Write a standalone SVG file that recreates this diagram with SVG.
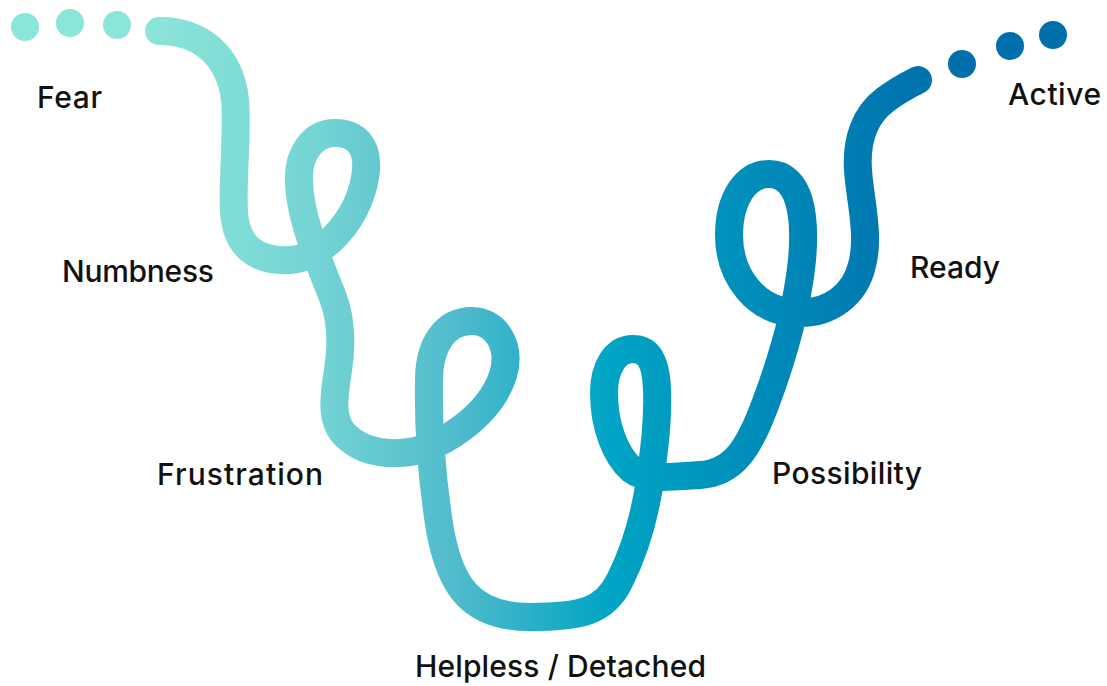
<svg xmlns="http://www.w3.org/2000/svg" width="1107" height="686" viewBox="0 0 1107 686">
<style>
.lbl{font-family:Inter,"Open Sans","Liberation Sans",sans-serif;font-size:30px;font-weight:500;fill:#111}
.dl{fill:#8ce5d9}
.dr{fill:#0070ad}
</style>
<defs>
<linearGradient id="g" gradientUnits="userSpaceOnUse" x1="150" y1="0" x2="920" y2="0">
<stop offset="0" stop-color="#8ce5d9"/>
<stop offset="0.22" stop-color="#74d3d4"/>
<stop offset="0.4" stop-color="#4fbbcc"/>
<stop offset="0.6" stop-color="#00a4c4"/>
<stop offset="1" stop-color="#0072ae"/>
</linearGradient>
</defs>
<rect width="1107" height="686" fill="#fff"/>
<g id="connectors">
<path id="journey" fill="none" stroke="url(#g)" stroke-width="28" stroke-linecap="round" stroke-linejoin="round"
d="M159,31 C200,31 230,55 235,100 C238,130 232,180 234,212 C236,245 255,262 290,260 C325,258 362,215 366,170 C368,145 355,133 335,133 C312,133 298,155 299,180 C299,215 318,260 332,295 C342,320 342,345 338,370 C334,395 330,420 345,435 C360,450 380,454 400,453 C440,451 490,415 503,375 C512,345 495,321 472,321 C445,321 429,345 429,380 C428,430 432,480 440,530 C450,585 470,617 530,617 C580,617 605,612 620,580 C635,550 645,515 650,480 C655,445 658,420 657,390 C656,360 648,349 633,349 C615,349 604,368 604,393 C604,425 615,455 632,470 C645,480 670,477 700,475 C735,473 750,445 765,405 C780,365 797,310 802,260 C806,215 800,174 769,174 C745,174 729,200 729,235 C729,275 755,313 800,313 C830,313 855,295 862,265 C870,235 860,200 858,170 C856,140 865,115 885,100 C898,90 910,84 918,80"/>
</g>
<g id="dots-start">
<circle class="dl" cx="25" cy="27" r="14"/>
<circle class="dl" cx="70" cy="23" r="14"/>
<circle class="dl" cx="117" cy="25" r="14"/>
</g>
<g id="dots-end">
<circle class="dr" cx="962" cy="64" r="14"/>
<circle class="dr" cx="1010" cy="46" r="14"/>
<circle class="dr" cx="1053" cy="35" r="14"/>
</g>
<g id="fear"><text class="lbl" x="37" y="108" textLength="65" lengthAdjust="spacing">Fear</text></g>
<g id="numbness"><text class="lbl" x="62" y="282" textLength="152" lengthAdjust="spacing">Numbness</text></g>
<g id="frustration"><text class="lbl" x="157" y="485" textLength="166" lengthAdjust="spacing">Frustration</text></g>
<g id="helpless"><text class="lbl" x="415" y="677" textLength="291" lengthAdjust="spacing">Helpless / Detached</text></g>
<g id="possibility"><text class="lbl" x="772" y="484" textLength="150" lengthAdjust="spacing">Possibility</text></g>
<g id="ready"><text class="lbl" x="910" y="278" textLength="90" lengthAdjust="spacing">Ready</text></g>
<g id="active"><text class="lbl" x="1008" y="105" textLength="93" lengthAdjust="spacing">Active</text></g>
</svg>
